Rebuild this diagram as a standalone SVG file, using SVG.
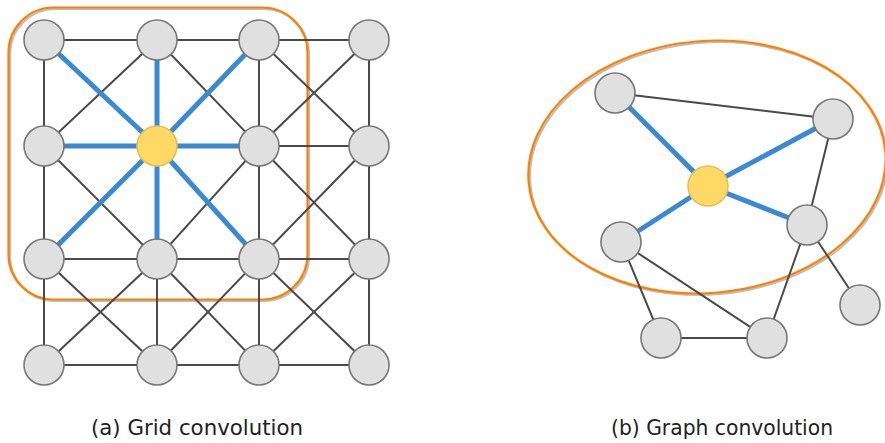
<svg xmlns="http://www.w3.org/2000/svg" width="885" height="443" viewBox="0 0 885 443">
<style>
.e{stroke:#4a4a4a;stroke-width:2;fill:none}
.b{stroke:#3a8ad3;stroke-width:5;fill:none}
.n{fill:#e0e0e0;stroke:#777;stroke-width:1.6}
.y{fill:#fed966;stroke:#e3bf57;stroke-width:1.6}
.o{fill:none;stroke:#ff8000;stroke-width:2.2}
.s{fill:none;stroke:#bdbdbd;stroke-width:2.2}
.t{font-family:"DejaVu Sans",Verdana,sans-serif;font-size:21px;fill:#222}
</style>
<rect class="s" x="10" y="9" width="299" height="292" rx="45"/>
<rect class="o" x="8.5" y="7.5" width="299" height="292" rx="45"/>
<ellipse class="s" cx="708.5" cy="168.5" rx="179" ry="126" transform="rotate(-5 708.5 168.5)"/>
<ellipse class="o" cx="707" cy="167" rx="179" ry="126" transform="rotate(-5 707 167)"/>
<g id="connectors">
<path class="e" d="M44 40H369M44 146H369M44 259H369M44 365H369M44 40V365M157 40V365M259 40V365M369 40V365"/>
<path class="e" d="M157 40L44 146M157 40L259 146M259 40L369 146M369 40L259 146M44 146L157 259M259 146L157 259M259 146L369 259M369 146L259 259M44 259L157 365M157 259L44 365M157 259L259 365M259 259L157 365M259 259L369 365M369 259L259 365"/>
<path class="b" d="M157 146L44 40M157 146L157 40M157 146L259 40M157 146L44 146M157 146L259 146M157 146L44 259M157 146L157 259M157 146L259 259"/>
<path class="e" d="M615 93L833 119M833 119L807 225M807 225L860 305M807 225L767 338M621 242L661 338M621 242L767 338M661 338L767 338"/>
<path class="b" d="M708 186L615 93M708 186L833 119M708 186L621 242M708 186L807 225"/>
</g>
<g id="g00"><circle class="n" cx="44" cy="40" r="20"/></g>
<g id="g01"><circle class="n" cx="157" cy="40" r="20"/></g>
<g id="g02"><circle class="n" cx="259" cy="40" r="20"/></g>
<g id="g03"><circle class="n" cx="369" cy="40" r="20"/></g>
<g id="g10"><circle class="n" cx="44" cy="146" r="20"/></g>
<g id="g11"><circle class="y" cx="157" cy="146" r="20"/></g>
<g id="g12"><circle class="n" cx="259" cy="146" r="20"/></g>
<g id="g13"><circle class="n" cx="369" cy="146" r="20"/></g>
<g id="g20"><circle class="n" cx="44" cy="259" r="20"/></g>
<g id="g21"><circle class="n" cx="157" cy="259" r="20"/></g>
<g id="g22"><circle class="n" cx="259" cy="259" r="20"/></g>
<g id="g23"><circle class="n" cx="369" cy="259" r="20"/></g>
<g id="g30"><circle class="n" cx="44" cy="365" r="20"/></g>
<g id="g31"><circle class="n" cx="157" cy="365" r="20"/></g>
<g id="g32"><circle class="n" cx="259" cy="365" r="20"/></g>
<g id="g33"><circle class="n" cx="369" cy="365" r="20"/></g>
<g id="nA"><circle class="n" cx="615" cy="93" r="20"/></g>
<g id="nB"><circle class="n" cx="833" cy="119" r="20"/></g>
<g id="nC"><circle class="y" cx="708" cy="186" r="20"/></g>
<g id="nD"><circle class="n" cx="807" cy="225" r="20"/></g>
<g id="nE"><circle class="n" cx="621" cy="242" r="20"/></g>
<g id="nF"><circle class="n" cx="860" cy="305" r="20"/></g>
<g id="nG"><circle class="n" cx="661" cy="338" r="20"/></g>
<g id="nH"><circle class="n" cx="767" cy="338" r="20"/></g>
<text class="t" x="91" y="435" textLength="212" lengthAdjust="spacingAndGlyphs">(a) Grid convolution</text>
<text class="t" x="611" y="435" textLength="222" lengthAdjust="spacingAndGlyphs">(b) Graph convolution</text>
</svg>
